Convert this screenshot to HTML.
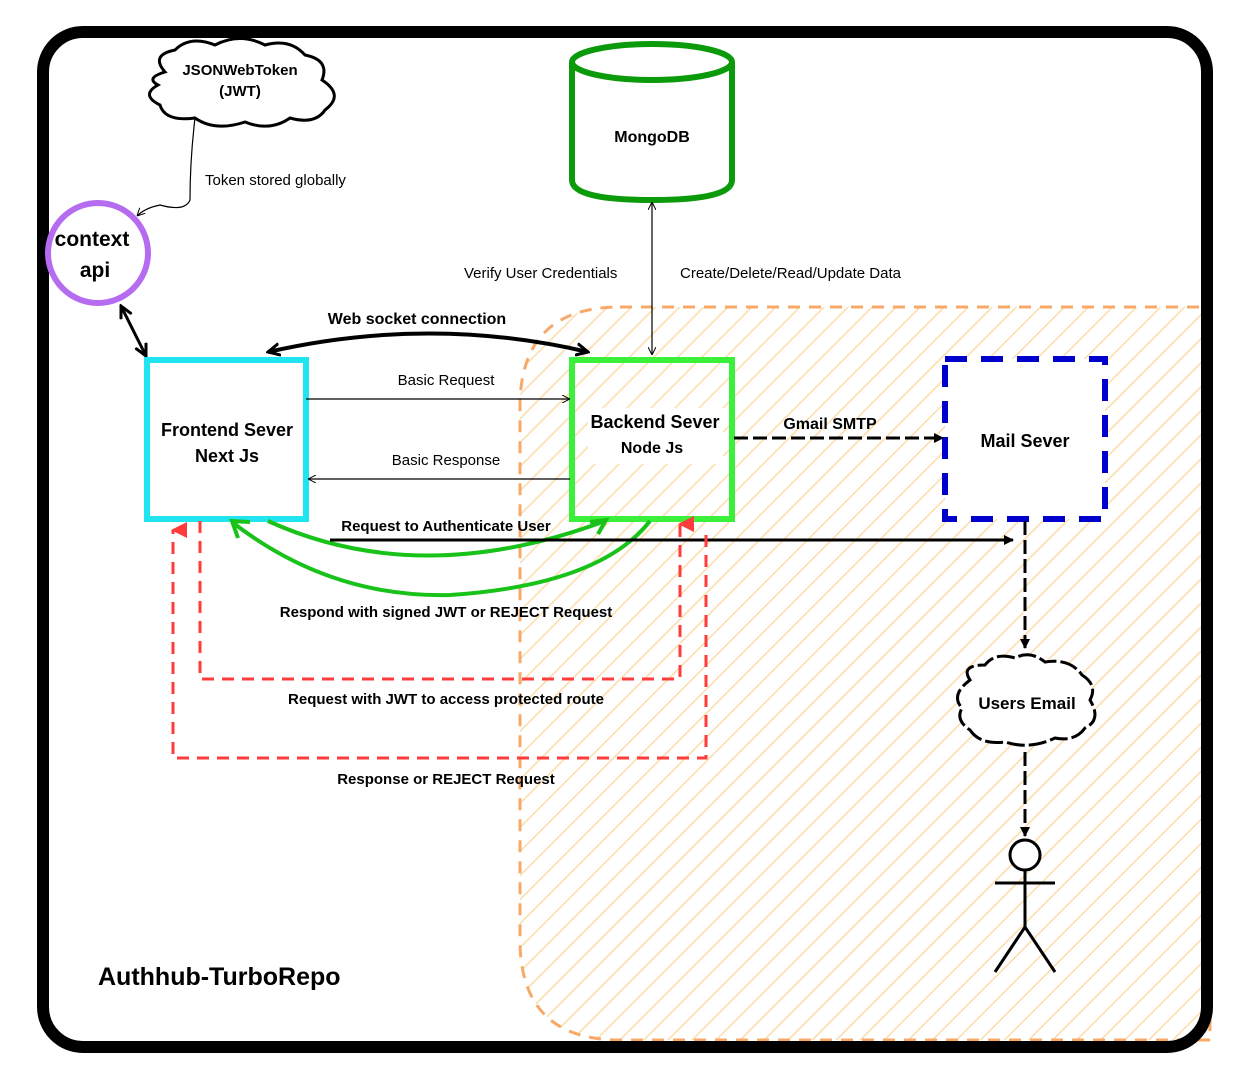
<!DOCTYPE html>
<html><head><meta charset="utf-8"><style>
html,body{margin:0;padding:0;background:#fff;}
svg{display:block;}
text{font-family:"Liberation Sans",sans-serif;}
</style></head><body>
<svg width="1244" height="1080" viewBox="0 0 1244 1080" xmlns="http://www.w3.org/2000/svg">
<defs>
<pattern id="h" patternUnits="userSpaceOnUse" width="17" height="17" patternTransform="rotate(45)">
<rect width="17" height="17" fill="#fff"/>
<line x1="0" y1="0" x2="0" y2="17" stroke="#fcdcaa" stroke-width="3"/>
</pattern>
<marker id="a" markerWidth="10" markerHeight="10" refX="9" refY="5" orient="auto" markerUnits="userSpaceOnUse"><path d="M0,0 L10,5 L0,10 z" fill="#000"/></marker>
<marker id="as" markerWidth="8" markerHeight="8" refX="8" refY="4" orient="auto-start-reverse" markerUnits="userSpaceOnUse"><path d="M0,0 L8,4 L0,8" fill="none" stroke="#000" stroke-width="1"/></marker>
<marker id="ab" markerWidth="14" markerHeight="14" refX="12" refY="7" orient="auto-start-reverse" markerUnits="userSpaceOnUse"><path d="M0,1 L12,7 L0,13" fill="none" stroke="#000" stroke-width="3"/></marker>
<marker id="ar" markerWidth="16" markerHeight="16" refX="8" refY="2" orient="auto" markerUnits="userSpaceOnUse"><path d="M0,16 L8,0 L16,16 z" fill="#ff3b3b"/></marker>
</defs>
<rect x="0" y="0" width="1244" height="1080" fill="#fff"/>
<path d="M620,307 L1210,307 L1210,1040 L620,1040 Q520,1040 520,940 L520,407 Q520,307 620,307 z" fill="url(#h)" stroke="#f7a96a" stroke-width="3" stroke-dasharray="12,9"/>
<rect x="43" y="32" width="1164" height="1015" rx="40" fill="none" stroke="#000" stroke-width="12"/>

<path d="M165,72 Q150,55 175,50 Q190,35 215,45 Q240,32 265,45 Q290,38 305,55 Q330,60 322,80 Q345,95 325,110 Q315,125 290,118 Q270,132 245,122 Q215,132 195,118 Q165,122 160,105 Q140,95 158,85 Q145,78 165,72 z" fill="#fff" stroke="#000" stroke-width="3"/>
<text x="240" y="75" text-anchor="middle" font-size="15" font-weight="bold">JSONWebToken</text>
<text x="240" y="96" text-anchor="middle" font-size="15" font-weight="bold">(JWT)</text>
<path d="M195,118 Q190,160 190,200 Q185,212 160,205 Q145,208 137,216" fill="none" stroke="#000" stroke-width="1.2" marker-end="url(#as)"/>
<text x="205" y="185" font-size="15">Token stored globally</text>

<circle cx="98" cy="253" r="50" fill="#fff" stroke="#b56cf0" stroke-width="6"/>
<text x="92" y="246" text-anchor="middle" font-size="21" font-weight="bold">context</text>
<text x="95" y="277" text-anchor="middle" font-size="21" font-weight="bold">api</text>
<line x1="121" y1="306" x2="146" y2="356" stroke="#000" stroke-width="3" marker-start="url(#ab)" marker-end="url(#ab)"/>

<path d="M572,62 L572,180 Q572,200 652,200 Q732,200 732,180 L732,62" fill="#fff" stroke="#0a9a0a" stroke-width="6"/>
<ellipse cx="652" cy="62" rx="80" ry="18" fill="#fff" stroke="#0a9a0a" stroke-width="6"/>
<text x="652" y="142" text-anchor="middle" font-size="16" font-weight="bold">MongoDB</text>
<line x1="652" y1="202" x2="652" y2="355" stroke="#000" stroke-width="1.2" marker-start="url(#as)" marker-end="url(#as)"/>
<text x="464" y="278" font-size="15">Verify User Credentials</text>
<text x="680" y="278" font-size="15">Create/Delete/Read/Update Data</text>

<path d="M268,352 Q430,315 588,352" fill="none" stroke="#000" stroke-width="4" marker-start="url(#ab)" marker-end="url(#ab)"/>
<text x="417" y="324" text-anchor="middle" font-size="16" font-weight="bold">Web socket connection</text>

<rect x="147" y="360" width="159" height="159" fill="#fff" stroke="#20e4f0" stroke-width="6"/>
<text x="227" y="436" text-anchor="middle" font-size="18" font-weight="bold">Frontend Sever</text>
<text x="227" y="462" text-anchor="middle" font-size="18" font-weight="bold">Next Js</text>

<rect x="572" y="360" width="160" height="159" fill="none" stroke="#3bf03b" stroke-width="6"/>
<rect x="588" y="408" width="135" height="56" fill="#fff"/>
<text x="655" y="428" text-anchor="middle" font-size="18" font-weight="bold">Backend Sever</text>
<text x="652" y="453" text-anchor="middle" font-size="16" font-weight="bold">Node Js</text>

<line x1="306" y1="399" x2="570" y2="399" stroke="#000" stroke-width="1.2" marker-end="url(#as)"/>
<text x="446" y="385" text-anchor="middle" font-size="15">Basic Request</text>
<line x1="570" y1="479" x2="308" y2="479" stroke="#000" stroke-width="1.2" marker-end="url(#as)"/>
<text x="446" y="465" text-anchor="middle" font-size="15">Basic Response</text>

<rect x="945" y="359" width="160" height="160" fill="#fff" stroke="#0000cc" stroke-width="6" stroke-dasharray="22,14"/>
<text x="1025" y="447" text-anchor="middle" font-size="18" font-weight="bold">Mail Sever</text>
<line x1="734" y1="438" x2="943" y2="438" stroke="#000" stroke-width="3" stroke-dasharray="14,5" marker-end="url(#a)"/>
<text x="830" y="429" text-anchor="middle" font-size="16" font-weight="bold">Gmail SMTP</text>

<!-- green curves -->
<path d="M268,521 Q420,590 605,521" fill="none" stroke="#19c219" stroke-width="4"/>
<path d="M590,522 L606,520 L598,534" fill="none" stroke="#19c219" stroke-width="4"/>
<path d="M650,521 Q600,585 450,595 Q330,598 232,522" fill="none" stroke="#19c219" stroke-width="4"/>
<path d="M250,522 L232,521 L238,538" fill="none" stroke="#19c219" stroke-width="4"/>
<text x="446" y="617" text-anchor="middle" font-size="15" font-weight="bold">Respond with signed JWT or REJECT Request</text>

<text x="446" y="531" text-anchor="middle" font-size="15" font-weight="bold">Request to Authenticate User</text>
<line x1="330" y1="540" x2="1013" y2="540" stroke="#000" stroke-width="3" marker-end="url(#a)"/>

<path d="M200,521 L200,679 L680,679 L680,524" fill="none" stroke="#ff3b3b" stroke-width="3" stroke-dasharray="12,8" marker-end="url(#ar)"/>
<text x="446" y="704" text-anchor="middle" font-size="15" font-weight="bold">Request with JWT to access protected route</text>
<path d="M706,535 L706,758 L173,758 L173,530" fill="none" stroke="#ff3b3b" stroke-width="3" stroke-dasharray="12,8" marker-end="url(#ar)"/>
<text x="446" y="784" text-anchor="middle" font-size="15" font-weight="bold">Response or REJECT Request</text>

<line x1="1025" y1="521" x2="1025" y2="648" stroke="#000" stroke-width="3" stroke-dasharray="14,5" marker-end="url(#a)"/>
<path d="M970,680 Q960,665 985,665 Q995,652 1015,658 Q1030,650 1045,662 Q1070,658 1082,675 Q1098,685 1090,700 Q1102,720 1085,728 Q1075,742 1055,738 Q1030,750 1005,742 Q980,745 970,730 Q955,720 962,708 Q950,695 970,680 z" fill="#fff" stroke="#000" stroke-width="3" stroke-dasharray="18,4"/>
<text x="1027" y="709" text-anchor="middle" font-size="17" font-weight="bold">Users Email</text>
<line x1="1025" y1="752" x2="1025" y2="836" stroke="#000" stroke-width="3" stroke-dasharray="14,5" marker-end="url(#a)"/>
<circle cx="1025" cy="855" r="15" fill="#fff" stroke="#000" stroke-width="3"/>
<line x1="995" y1="883" x2="1055" y2="883" stroke="#000" stroke-width="3"/>
<line x1="1025" y1="870" x2="1025" y2="927" stroke="#000" stroke-width="3"/>
<line x1="1025" y1="927" x2="995" y2="972" stroke="#000" stroke-width="3"/>
<line x1="1025" y1="927" x2="1055" y2="972" stroke="#000" stroke-width="3"/>

<text x="98" y="985" font-size="25" font-weight="bold">Authhub-TurboRepo</text>
</svg>
</body></html>
